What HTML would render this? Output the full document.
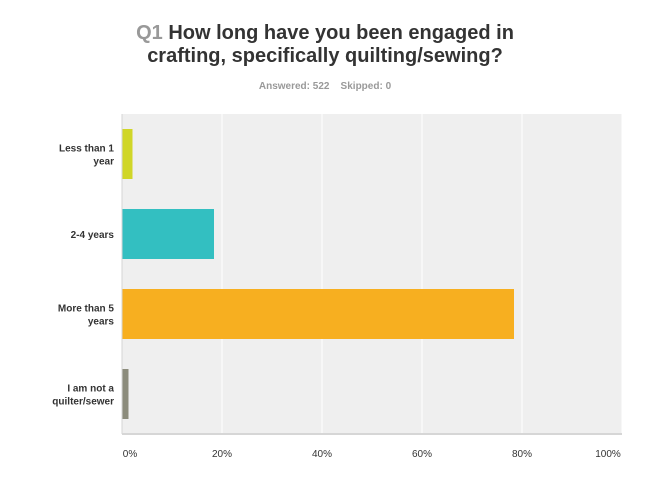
<!DOCTYPE html>
<html><head><meta charset="utf-8"><style>
body{margin:0;width:650px;height:504px;background:#fff;font-family:"Liberation Sans",Arial,sans-serif;overflow:hidden;position:relative}
.t{position:absolute;left:0;width:650px;text-align:center;font-weight:bold}
</style></head><body>
<div class="t" style="top:22px;font-size:20px;line-height:23px;color:#333"><span style="color:#999">Q1</span> How long have you been engaged in<br>crafting, specifically quilting/sewing?</div>
<div class="t" style="top:81px;font-size:10px;color:#999">Answered: 522&nbsp;&nbsp;&nbsp;&nbsp;Skipped: 0</div>
<svg id="c" width="650" height="504" style="position:absolute;left:0;top:0"></svg>
<script>
const categories=[["Less than 1","year"],["2-4 years"],["More than 5","years"],["I am not a","quilter/sewer"]];
const values=[2.1,18.4,78.4,1.3];
const colors=["#d0d628","#33bfc1","#f7af20","#8c8c7c"];
const ticks=[0,20,40,60,80,100];
const ns="http://www.w3.org/2000/svg",svg=document.getElementById('c');
const x0=122,x1=622,y0=114,y1=434;
const xs=v=>x0+(x1-x0)*v/100;
const band=(y1-y0)/categories.length;
function mk(t,a){const e=document.createElementNS(ns,t);for(const k in a)e.setAttribute(k,a[k]);svg.appendChild(e);return e;}
const bg=mk('rect',{x:x0,y:y0,width:x1-x0,height:y1-y0,fill:'#efefef'});


ticks.forEach(t=>{
 if(t>0){const g=mk('line',{x1:xs(t),x2:xs(t),y1:y0,y2:y1,stroke:'#fff','stroke-width':1});
 
 }
 const l=mk('text',{x:xs(t)+(t==0?8:t==100?-14:0),y:457,'text-anchor':'middle','font-size':10,fill:'#333'});
 l.textContent=t+'%';
 
 
});
values.forEach((v,i)=>{
 const cy=y0+band*(i+0.5);
 const b=mk('rect',{x:x0,y:cy-25,width:xs(v)-x0,height:50,fill:colors[i]});
 
 
 const lines=categories[i];
 lines.forEach((s,j)=>{
  const t=mk('text',{x:114,y:cy+4+(j-(lines.length-1)/2)*13,'text-anchor':'end','font-size':10,'font-weight':'bold',fill:'#333'});
  t.textContent=s;
  
  
 });
});
const ax=mk('line',{x1:x0,x2:x1,y1:y1,y2:y1,stroke:'#d6d6d6','stroke-width':2});


const ay=mk('line',{x1:x0,x2:x0,y1:y0,y2:y1,stroke:'#d6d6d6','stroke-width':1});


</script>
</body></html>
